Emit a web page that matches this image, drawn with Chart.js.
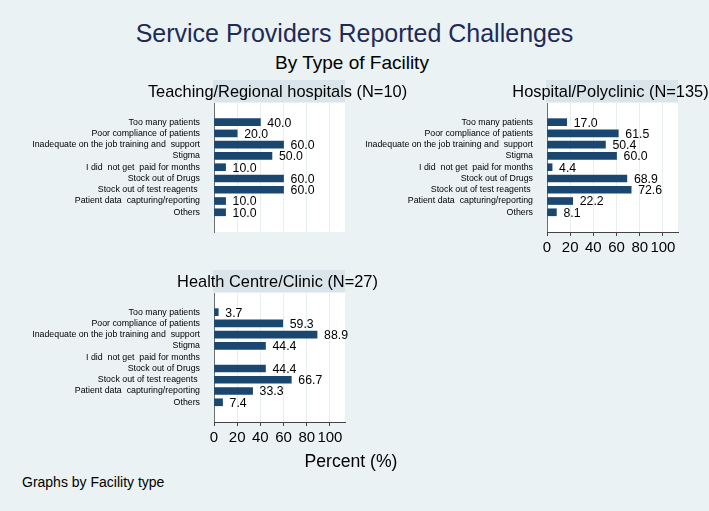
<!DOCTYPE html>
<html>
<head>
<meta charset="utf-8">
<script src="https://cdn.jsdelivr.net/npm/chart.js@4"></script>
<style>
  body { margin: 0; background: #eaf2f3; font-family: "Liberation Sans", Arial, sans-serif; }
  #page { position: relative; width: 709px; height: 511px; overflow: hidden; }
  .box { position: absolute; }
  .txt { position: absolute; white-space: pre; }
</style>
</head>
<body>
<div id="page">
  <div class="txt" style="left:0;width:709px;top:21px;text-align:center;font-size:25px;line-height:25px;color:#1f2a57;">Service Providers Reported Challenges</div>
  <div class="txt" style="left:0;width:704px;top:53px;text-align:center;font-size:19px;line-height:19px;color:#000;">By Type of Facility</div>

  <div class="box" style="left:0;top:75px;width:430px;height:170px;"><canvas id="c1"></canvas></div>
  <div class="box" style="left:0;top:265px;width:430px;height:190px;"><canvas id="c3"></canvas></div>
  <div class="box" style="left:360px;top:75px;width:349px;height:190px;"><canvas id="c2"></canvas></div>

  <div class="txt" style="left:251px;width:200px;top:453px;text-align:center;font-size:17.6px;line-height:17.6px;color:#000;">Percent (%)</div>
  <div class="txt" style="left:22px;top:475px;font-size:14px;line-height:14px;color:#000;">Graphs by Facility type</div>
</div>

<script>
// Data
const challenges = [
    "Too many patients",
    "Poor compliance of patients",
    "Inadequate on the job training and  support",
    "Stigma",
    "I did  not get  paid for months",
    "Stock out of Drugs",
    "Stock out of test reagents ",
    "Patient data  capturing/reporting",
    "Others"
];
const teachingRegional = [40.0, 20.0, 60.0, 50.0, 10.0, 60.0, 60.0, 10.0, 10.0];
const hospitalPolyclinic = [17.0, 61.5, 50.4, 60.0, 4.4, 68.9, 72.6, 22.2, 8.1];
const healthCentreClinic = [3.7, 59.3, 88.9, 44.4, null, 44.4, 66.7, 33.3, 7.4];
const percentTicks = [0, 20, 40, 60, 80, 100];

const panelTitles = [
    "Teaching/Regional hospitals (N=10)",
    "Hospital/Polyclinic (N=135)",
    "Health Centre/Clinic (N=27)"
];

Chart.defaults.font.family = '"Liberation Sans", Arial, sans-serif';
Chart.defaults.color = "#000";

// white plot region, shaded header with panel title, value labels
const panelDeco = {
    id: "panelDeco",
    beforeDraw(chart) {
        const a = chart.chartArea, ctx = chart.ctx;
        ctx.save();
        ctx.fillStyle = "#ffffff";
        ctx.fillRect(a.left, a.top, a.right - a.left, a.bottom - a.top);
        ctx.fillStyle = "#d9e5ea";
        ctx.fillRect(a.left - 1, a.top - 23, a.right - a.left + 1, 22);
        ctx.restore();
    },
    afterDraw(chart, args, opts) {
        const a = chart.chartArea, ctx = chart.ctx;
        ctx.save();
        ctx.fillStyle = "#000";
        ctx.font = '16.4px "Liberation Sans", Arial, sans-serif';
        ctx.textAlign = "center";
        ctx.textBaseline = "alphabetic";
        ctx.fillText(opts.title, (a.left + a.right) / 2 - 2, a.top - 6);

        ctx.font = '12.3px "Liberation Sans", Arial, sans-serif';
        ctx.textAlign = "left";
        ctx.textBaseline = "middle";
        const meta = chart.getDatasetMeta(0);
        const vals = chart.data.datasets[0].data;
        meta.data.forEach((bar, i) => {
            const v = vals[i].x;
            if (v === null || v === undefined) return;
            ctx.fillText(v.toFixed(1), bar.x + 7, bar.y + 1);
        });
        ctx.restore();
    }
};

function makePanel(id, title, values, yWidth, pad, showX) {
    const pts = values.map((v, i) => ({ x: v, y: i }));
    return new Chart(document.getElementById(id), {
        type: "bar",
        data: {
            datasets: [{
                data: pts,
                backgroundColor: "#1a476f",
                barThickness: 7,
                borderWidth: 0
            }]
        },
        plugins: [panelDeco],
        options: {
            indexAxis: "y",
            responsive: true,
            maintainAspectRatio: false,
            animation: false,
            layout: { padding: pad },
            plugins: {
                legend: { display: false },
                tooltip: { enabled: false },
                panelDeco: { title: title }
            },
            scales: {
                y: {
                    type: "linear",
                    reverse: true,
                    offset: false,
                    min: -1.7,
                    max: 9.75,
                    afterBuildTicks: s => { s.ticks = challenges.map((c, i) => ({ value: i })); },
                    afterFit: s => { s.width = yWidth; },
                    ticks: {
                        autoSkip: false,
                        padding: 6,
                        font: { size: 8.8 },
                        color: "#000",
                        callback: v => challenges[v]
                    },
                    grid: { display: false },
                    border: { display: true, color: "#6e6e6e", width: 1 }
                },
                x: {
                    type: "linear",
                    min: 0,
                    max: 113,
                    afterBuildTicks: s => { s.ticks = percentTicks.map(v => ({ value: v })); },
                    afterFit: s => { s.height = showX ? 30 : 0; },
                    ticks: {
                        display: showX,
                        autoSkip: false,
                        maxRotation: 0,
                        padding: 3,
                        font: { size: 15 },
                        color: "#000"
                    },
                    grid: {
                        color: "#e6eef0",
                        lineWidth: 1,
                        drawTicks: showX,
                        tickLength: 4,
                        tickColor: "#444"
                    },
                    border: { display: showX, color: "#444", width: 1 }
                }
            }
        }
    });
}

makePanel("c1", panelTitles[0], teachingRegional, 214, { top: 28, right: 85, bottom: 13, left: 0 }, false);
makePanel("c3", panelTitles[2], healthCentreClinic, 214, { top: 28, right: 85, bottom: 3, left: 0 }, true);
makePanel("c2", panelTitles[1], hospitalPolyclinic, 187, { top: 28, right: 31, bottom: 3, left: 0 }, true);
</script>
</body>
</html>
